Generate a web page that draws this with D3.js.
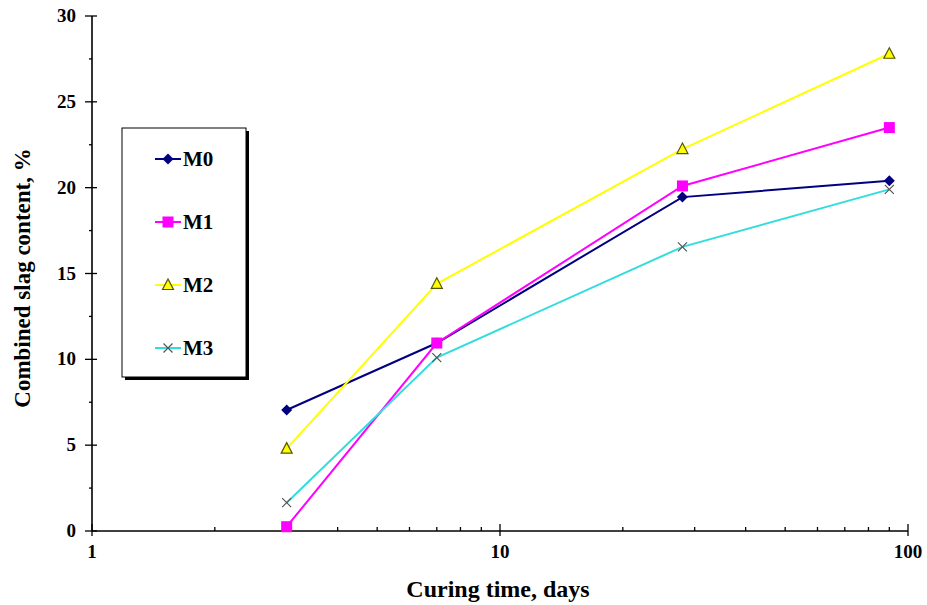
<!DOCTYPE html>
<html><head><meta charset="utf-8">
<script src="https://cdn.jsdelivr.net/npm/d3@7"></script>
<style>body{margin:0;background:#fff}svg{display:block}text{font-family:"Liberation Serif","Times New Roman",serif;font-weight:bold}</style>
</head><body><svg id="c" width="927" height="605"></svg>
<script>
const days = [3, 7, 28, 90];
const seriesNames = ["M0", "M1", "M2", "M3"];
const M0 = [7.05, 10.95, 19.45, 20.4];
const M1 = [0.25, 10.95, 20.1, 23.5];
const M2 = [4.8, 14.4, 22.25, 27.8];
const M3 = [1.65, 10.1, 16.55, 19.9];
const yTicks = [0, 5, 10, 15, 20, 25, 30];
const xTicks = [1, 10, 100];
const xTitle = "Curing time, days";
const yTitle = "Combined slag content, %";

const svg = d3.select("#c");
const x = d3.scaleLog().domain([1, 100]).range([92, 908]);
const y = d3.scaleLinear().domain([0, 30]).range([531, 16]);

const styles = [
  {color:"#000080", marker:"diamond"},
  {color:"#ff00ff", marker:"square"},
  {color:"#ffff00", marker:"triangle"},
  {color:"#33dddd", marker:"x"}
];
const data = [M0, M1, M2, M3];

// axes
const ax = svg.append("g");
ax.append("line").attr("x1", x(1)).attr("x2", x(100)).attr("y1", y(0)).attr("y2", y(0)).attr("stroke","#000").attr("stroke-width",1.6);
ax.append("line").attr("x1", x(1)).attr("x2", x(1)).attr("y1", y(0)).attr("y2", y(30)).attr("stroke","#000").attr("stroke-width",1.6);
const yMinor = d3.range(0, 30.1, 2.5);
yMinor.forEach(v => {
  const major = v % 5 === 0;
  ax.append("line").attr("x1", x(1) - (major ? 7 : 3)).attr("x2", x(1) + (major ? 5 : 0))
    .attr("y1", y(v)).attr("y2", y(v)).attr("stroke","#000").attr("stroke-width",1.3);
});
yTicks.forEach(v => {
  ax.append("text").attr("x", 76).attr("y", y(v) + 6).attr("text-anchor","end")
    .attr("font-size", 19).text(v);
});
const xMinor = [];
[1, 10].forEach(d => { for (let k = 2; k <= 9; k++) xMinor.push(d * k); });
xMinor.forEach(v => {
  ax.append("line").attr("x1", x(v)).attr("x2", x(v)).attr("y1", y(0)).attr("y2", y(0) - 4)
    .attr("stroke","#000").attr("stroke-width",1.3);
});
xTicks.forEach(v => {
  ax.append("line").attr("x1", x(v)).attr("x2", x(v)).attr("y1", y(0) - 7).attr("y2", y(0) + 5)
    .attr("stroke","#000").attr("stroke-width",1.3);
  ax.append("text").attr("x", x(v)).attr("y", 558).attr("text-anchor","middle")
    .attr("font-size", 19).text(v);
});
svg.append("text").attr("x", 498).attr("y", 597).attr("text-anchor","middle").attr("font-size", 24).text(xTitle);
svg.append("text").attr("transform","translate(30,278) rotate(-90)").attr("text-anchor","middle").attr("font-size", 23).text(yTitle);

function drawMarker(g, type, cx, cy, color) {
  if (type === "diamond") {
    g.append("path").attr("d", `M${cx},${cy-5.5}L${cx+5.5},${cy}L${cx},${cy+5.5}L${cx-5.5},${cy}Z`).attr("fill", color);
  } else if (type === "square") {
    g.append("rect").attr("x", cx-5.5).attr("y", cy-5.5).attr("width",11).attr("height",11).attr("fill", color);
  } else if (type === "triangle") {
    g.append("path").attr("d", `M${cx},${cy-6}L${cx+5.5},${cy+4.5}L${cx-5.5},${cy+4.5}Z`).attr("fill", color).attr("stroke","#555500").attr("stroke-width",1.2);
  } else {
    g.append("path").attr("d", `M${cx-4.5},${cy-4.5}L${cx+4.5},${cy+4.5}M${cx+4.5},${cy-4.5}L${cx-4.5},${cy+4.5}`).attr("stroke","#555").attr("stroke-width",1.2);
  }
}

const line = d3.line().x((d,i) => x(days[i])).y(d => y(d));
data.forEach((vals, si) => {
  const g = svg.append("g");
  g.append("path").attr("d", line(vals)).attr("fill","none").attr("stroke", styles[si].color).attr("stroke-width", 2);
  vals.forEach((v, i) => drawMarker(g, styles[si].marker, x(days[i]), y(v), styles[si].color));
});

// legend
const lg = svg.append("g");
lg.append("rect").attr("x", 125).attr("y", 131).attr("width", 124).attr("height", 249).attr("fill","#000");
lg.append("rect").attr("x", 122).attr("y", 128).attr("width", 124).attr("height", 249).attr("fill","#fff").attr("stroke","#000").attr("stroke-width",1);
seriesNames.forEach((n, i) => {
  const ly = 159 + i * 63;
  lg.append("line").attr("x1", 155).attr("x2", 181).attr("y1", ly).attr("y2", ly).attr("stroke", styles[i].color).attr("stroke-width", 2);
  drawMarker(lg, styles[i].marker, 168, ly, styles[i].color);
  lg.append("text").attr("x", 183).attr("y", ly + 7).attr("font-size", 21).text(n);
});
</script></body></html>
